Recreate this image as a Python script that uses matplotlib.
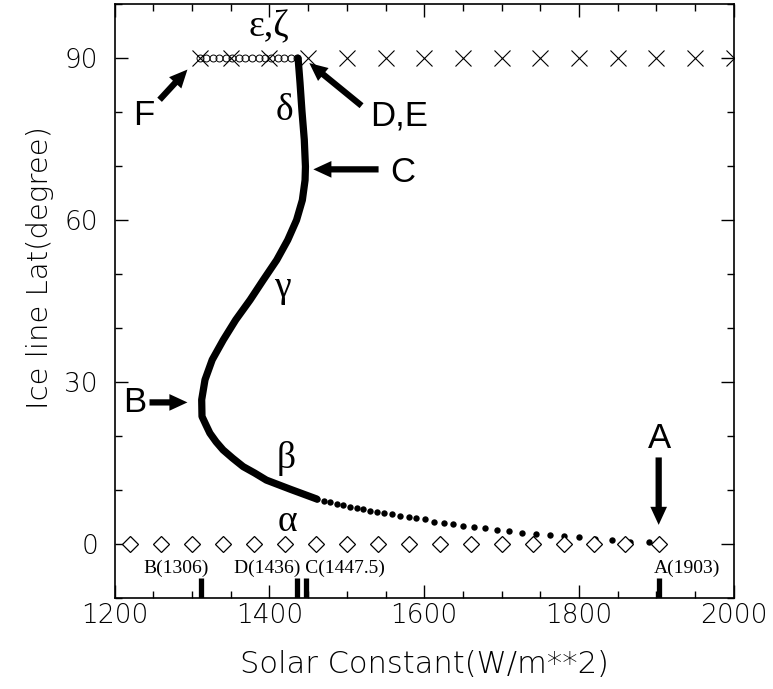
import numpy as np
import matplotlib
matplotlib.use('Agg')
import matplotlib.pyplot as plt
from matplotlib.ticker import MultipleLocator

# ── Values ──────────────────────────────────────────────────────────────────
# thick (densely sampled) part of the ice-line branch: solar constant, latitude
curve_s   = [1437, 1439.5, 1442, 1445, 1446.5, 1446, 1442.5, 1435, 1423.6,
             1409.4, 1392, 1375, 1356.4, 1340.4, 1326, 1316.7, 1312.4, 1312.8,
             1318, 1323, 1331, 1340, 1352.5, 1366, 1381, 1396, 1427, 1461]
curve_lat = [90, 85.4, 80.2, 74.9, 69.9, 67.4, 63.7, 60.0, 56.3,
             52.6, 48.9, 45.2, 41.5, 37.8, 34.1, 30.4, 26.7, 23.6,
             22.0, 20.5, 18.9, 17.4, 15.85, 14.3, 13.1, 11.8, 10.1, 8.3]

# sparse dots of the same branch towards A
dots_s   = [1461, 1470, 1478, 1487, 1495, 1504, 1513, 1521, 1530, 1539, 1548,
            1558, 1569, 1580, 1590, 1601, 1613, 1625, 1637, 1650, 1664, 1679,
            1694, 1710, 1726, 1744, 1762, 1781, 1800, 1821, 1843, 1866, 1890]
dots_lat = [8.3, 8.0, 7.7, 7.4, 7.1, 6.9, 6.6, 6.4, 6.1, 5.9, 5.65,
            5.45, 5.2, 5.0, 4.85, 4.5, 4.1, 3.8, 3.6, 3.35, 3.05, 2.85,
            2.55, 2.3, 2.05, 1.85, 1.6, 1.45, 1.2, 0.95, 0.7, 0.4, 0.25]

# ice-free solutions (alpha), lat = 0
ice_free_s = [1220, 1260, 1300, 1340, 1380, 1420, 1460, 1500, 1540, 1580,
              1620, 1660, 1700, 1740, 1780, 1820, 1860, 1903]
# ice-covered solutions, lat = 90
snowball_x_s = [1310, 1350, 1400, 1450, 1500, 1550, 1600, 1650, 1700, 1750,
                1800, 1850, 1900, 1950, 2000]
snowball_o_s = [1310, 1318, 1327, 1335, 1344, 1352, 1360, 1369, 1377, 1386,
                1394, 1402, 1411, 1419, 1428, 1436]

# bifurcation markers on the x axis
bar_s = [1312, 1436, 1447.5, 1903]

# ── Plot ────────────────────────────────────────────────────────────────────
fig = plt.figure(figsize=(7.73, 6.89), dpi=100)
ax = fig.add_axes([0.1484, 0.1325, 0.8008, 0.8613])

ax.plot(curve_s, curve_lat, '-', color='k', lw=5.2, solid_capstyle='round',
        solid_joinstyle='round')
ax.plot(dots_s, dots_lat, 'o', color='k', ms=4.6, mew=0)
ax.plot(ice_free_s, np.zeros(len(ice_free_s)), 'D', mfc='white', mec='k',
        ms=8, mew=0.9)
ax.plot(snowball_o_s, np.full(len(snowball_o_s), 90.0), 'o', mfc='none',
        mec='k', ms=5, mew=0.7)
ax.plot(snowball_x_s, np.full(len(snowball_x_s), 90.0), 'x', color='k',
        ms=12, mew=0.8)
for s in bar_s:
    ax.plot([s, s], [-10, -6.4], '-', color='k', lw=3.8, solid_capstyle='butt')

ax.set_xlim(1200, 2000)
ax.set_ylim(-10, 100)
ax.xaxis.set_major_locator(MultipleLocator(200))
ax.xaxis.set_minor_locator(MultipleLocator(50))
ax.yaxis.set_major_locator(MultipleLocator(30))
ax.yaxis.set_minor_locator(MultipleLocator(10))
ax.tick_params(which='both', direction='in', top=True, right=True, width=1)
ax.tick_params(which='major', length=9.4, labelsize=19)
ax.tick_params(which='minor', length=5)
ax.tick_params(axis='x', pad=4)
ax.tick_params(axis='y', pad=12)
for sp in ax.spines.values():
    sp.set_linewidth(1.2)
for lab in ax.get_xticklabels() + ax.get_yticklabels():
    lab.set_fontweight('light')

ax.set_xlabel('Solar Constant(W/m**2)', fontsize=22, fontweight='light', va='center')
ax.set_ylabel('Ice line Lat(degree)', fontsize=21, fontweight='light', va='center')
ax.xaxis.set_label_coords(0.5, -0.112)
ax.yaxis.set_label_coords(-0.121, 0.557)

# arrows with capital letters
arrow = dict(arrowstyle='simple,head_length=1.3,head_width=1.2,tail_width=0.45',
             fc='k', ec='none', mutation_scale=10, shrinkA=0, shrinkB=0)
sans = dict(family=['Liberation Sans', 'DejaVu Sans'], fontsize=25,
            ha='center', va='center')
ax.annotate('', xy=(1903, 3.5), xytext=(1903, 16.0), arrowprops=arrow)
ax.annotate('', xy=(1294, 26.2), xytext=(1245, 26.2), arrowprops=arrow)
ax.annotate('', xy=(1456.7, 69.4), xytext=(1541, 69.4), arrowprops=arrow)
ax.annotate('', xy=(1451.5, 89.1), xytext=(1519, 81.2), arrowprops=arrow)
ax.annotate('', xy=(1294, 87.9), xytext=(1258, 82.3), arrowprops=arrow)
ax.text(1904, 19.6, 'A', **sans)
ax.text(1226, 26.2, 'B', **sans)
ax.text(1572, 68.9, 'C', **sans)
ax.text(1567, 79.3, 'D,E', **sans)
ax.text(1237, 79.4, 'F', **sans)

# greek branch names
serif = dict(family=['Liberation Serif', 'DejaVu Serif'], fontsize=27,
             ha='center', va='baseline')
ax.text(1399, 94.0, 'ε,ζ', **serif)
ax.text(1419, 78.6, 'δ', **serif)
ax.text(1417, 45.8, 'γ', **serif)
ax.text(1421, 14.0, 'β', **serif)
ax.text(1423, 2.4, 'α', **serif)

small = dict(family=['Liberation Serif', 'DejaVu Serif'], fontsize=14, va='center')
ax.text(1279, -4.6, 'B(1306)', ha='center', **small)
ax.text(1452, -4.6, 'D(1436) C(1447.5)', ha='center', **small)
ax.text(1897, -4.6, 'A(1903)', ha='left', **small)

fig.savefig('out.png', dpi=100)
